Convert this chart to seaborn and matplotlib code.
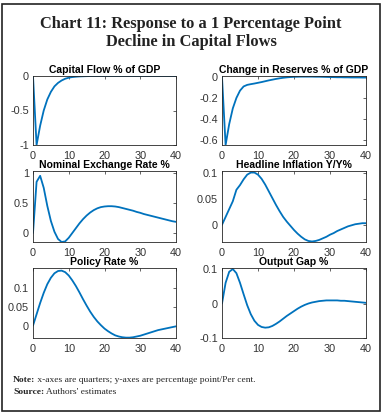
import numpy as np
import pandas as pd
import seaborn as sns
import matplotlib.pyplot as plt
from matplotlib.patches import Rectangle

# quarters 0..40
quarters = list(range(41))

capital_flow = [0, -1, -0.72, -0.5, -0.34, -0.23, -0.15, -0.1, -0.065, -0.04, -0.025,
                -0.015, -0.01, -0.006, -0.004, -0.002, -0.001, 0, 0, 0, 0,
                0, 0, 0, 0, 0, 0, 0, 0, 0, 0,
                0, 0, 0, 0, 0, 0, 0, 0, 0, 0]

reserves = [0, -0.65, -0.45, -0.3, -0.2, -0.13, -0.09, -0.075, -0.068, -0.062, -0.055,
            -0.048, -0.04, -0.032, -0.025, -0.018, -0.012, -0.007, -0.003, 0, 0.002,
            0.003, 0.004, 0.004, 0.004, 0.004, 0.003, 0.003, 0.002, 0.001, 0,
            -0.001, -0.002, -0.002, -0.003, -0.003, -0.004, -0.004, -0.004, -0.005, -0.005]

exchange_rate = [0, 0.85, 0.95, 0.75, 0.45, 0.2, 0.02, -0.1, -0.15, -0.14, -0.08,
                 0.0, 0.08, 0.16, 0.23, 0.29, 0.34, 0.38, 0.41, 0.43, 0.44,
                 0.445, 0.445, 0.44, 0.43, 0.415, 0.4, 0.385, 0.37, 0.35, 0.335,
                 0.315, 0.3, 0.285, 0.27, 0.255, 0.24, 0.225, 0.21, 0.195, 0.185]

inflation = [0, 0.015, 0.03, 0.045, 0.067, 0.076, 0.087, 0.096, 0.1, 0.1, 0.096,
             0.088, 0.077, 0.064, 0.051, 0.038, 0.026, 0.015, 0.006, -0.002, -0.01,
             -0.017, -0.023, -0.028, -0.031, -0.032, -0.031, -0.029, -0.026, -0.023, -0.019,
             -0.016, -0.012, -0.009, -0.006, -0.003, -0.001, 0.001, 0.002, 0.003, 0.003]

policy_rate = [0, 0.03, 0.06, 0.087, 0.11, 0.127, 0.139, 0.145, 0.146, 0.142, 0.133,
               0.12, 0.105, 0.088, 0.07, 0.053, 0.037, 0.023, 0.011, 0.001, -0.008,
               -0.015, -0.021, -0.026, -0.029, -0.031, -0.032, -0.032, -0.031, -0.029, -0.027,
               -0.024, -0.021, -0.018, -0.015, -0.012, -0.01, -0.008, -0.006, -0.004, -0.002]

output_gap = [0, 0.06, 0.092, 0.1, 0.088, 0.06, 0.027, -0.005, -0.031, -0.05, -0.062,
              -0.068, -0.07, -0.069, -0.065, -0.059, -0.052, -0.044, -0.036, -0.029, -0.022,
              -0.015, -0.009, -0.004, 0.0, 0.003, 0.005, 0.007, 0.008, 0.009, 0.009,
              0.009, 0.009, 0.008, 0.008, 0.007, 0.006, 0.005, 0.004, 0.003, 0.002]

panel_titles = ['Capital Flow % of GDP', 'Change in Reserves % of GDP',
                'Nominal Exchange Rate %', 'Headline Inflation Y/Y%',
                'Policy Rate %', 'Output Gap %']
panel_series = [capital_flow, reserves, exchange_rate, inflation, policy_rate, output_gap]
panel_yticks = [[-1, -0.5, 0], [-0.6, -0.4, -0.2, 0], [0, 0.5, 1],
                [0, 0.05, 0.1], [0, 0.05, 0.1], [-0.1, 0, 0.1]]
panel_ylims = [(-1, 0.0), (-0.65, 0.01), (-0.15, 1.03),
               (-0.033, 0.103), (-0.033, 0.153), (-0.1, 0.103)]
xticks = [0, 10, 20, 30, 40]

sns.set_theme(style='white', rc={
    'axes.edgecolor': '#262626',
    'axes.linewidth': 0.6,
    'xtick.color': '#262626',
    'ytick.color': '#262626',
    'xtick.direction': 'in',
    'ytick.direction': 'in',
    'xtick.major.size': 2.5,
    'ytick.major.size': 2.5,
    'xtick.major.width': 0.5,
    'ytick.major.width': 0.5,
    'xtick.major.pad': 4,
    'ytick.major.pad': 3,
})
plt.rcParams['font.family'] = ['Liberation Sans', 'DejaVu Sans']

W, H = 382, 413
fig = plt.figure(figsize=(W / 100, H / 100), dpi=100)

# axes boxes in pixels: left, right, top, bottom
cols = [(33, 176), (222, 366)]
rows = [(76, 145), (171, 242), (268, 338)]

line_color = '#0072BD'
for i, (title, vals) in enumerate(zip(panel_titles, panel_series)):
    l, r = cols[i % 2]
    t, b = rows[i // 2]
    ax = fig.add_axes([l / W, 1 - b / H, (r - l) / W, (b - t) / H])
    df = pd.DataFrame({'quarter': quarters, 'value': vals})
    sns.lineplot(data=df, x='quarter', y='value', ax=ax, color=line_color, linewidth=1.3)
    ax.set_xlim(0, 40)
    ax.set_ylim(*panel_ylims[i])
    ax.set_xticks(xticks)
    ax.set_yticks(panel_yticks[i])
    ax.set_yticklabels([f'{v:g}' for v in panel_yticks[i]])
    ax.tick_params(labelsize=7.8, top=True, right=True, labelcolor='#333333')
    ax.set_xlabel('')
    ax.set_ylabel('')
    ax.set_title(title, fontsize=7.5, fontweight='bold', pad=2, color='black')
    for s in ax.spines.values():
        s.set_visible(True)

# main title
fig.text(0.5, 1 - 33 / H, 'Chart 11: Response to a 1 Percentage Point\nDecline in Capital Flows',
         ha='center', va='center', fontsize=11.8, fontweight='bold',
         family=['Liberation Serif'], color='#222222', linespacing=1.25)

# notes
fs_note = 6.8
note = fig.text(13 / W, 1 - 382 / H, 'Note:', fontsize=fs_note, fontweight='bold',
                family=['Liberation Serif'], va='baseline')
note_body = fig.text(0, 0, ' x-axes are quarters; y-axes are percentage point/Per cent.',
                     fontsize=fs_note, family=['Liberation Serif'], va='baseline')
src = fig.text(13 / W, 1 - 394 / H, 'Source:', fontsize=fs_note, fontweight='bold',
               family=['Liberation Serif'], va='baseline')

fig.canvas.draw()
rend = fig.canvas.get_renderer()
nb = note.get_window_extent(rend)
sb = src.get_window_extent(rend)
note_body.set_position((nb.x1 / W, 1 - 382 / H))
fig.text(sb.x1 / W, 1 - 394 / H, " Authors' estimates", fontsize=fs_note,
         family=['Liberation Serif'], va='baseline')

# outer frame
fig.patches.append(Rectangle((1.5 / W, 2 / H), (W - 3.5) / W, (H - 6) / H, transform=fig.transFigure,
                             fill=False, edgecolor='#222222', linewidth=1.2))

fig.savefig('out.png', dpi=100)
